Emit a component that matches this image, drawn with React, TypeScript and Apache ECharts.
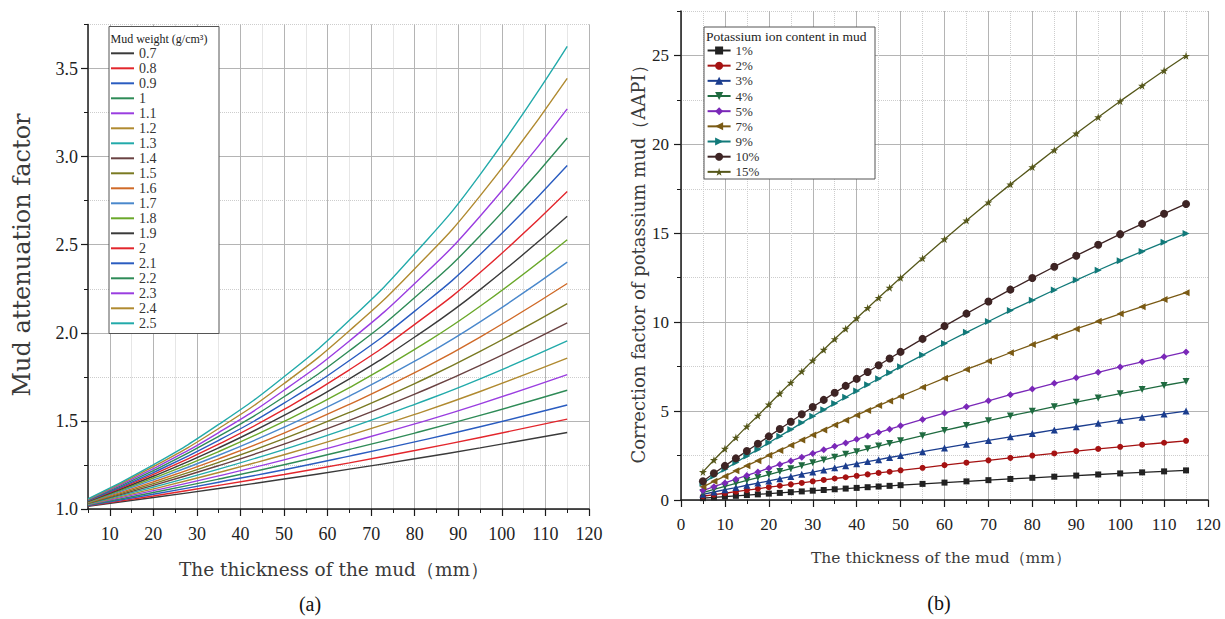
import React, { useEffect, useRef } from "react";
import * as echarts from "echarts";

// ---------- (a) Mud attenuation factor ----------
const xLeft = [5, 20, 35, 50, 65, 80, 95, 115];
const weightNames = ["0.7", "0.8", "0.9", "1", "1.1", "1.2", "1.3", "1.4", "1.5", "1.6", "1.7", "1.8", "1.9", "2", "2.1", "2.2", "2.3", "2.4", "2.5"];
const weightColors = ["#3a3a3a", "#e3262c", "#2a5cc0", "#2e8b57", "#9a3de0", "#b08a30", "#22aaaa", "#6a4242", "#7a7a22", "#d06a28", "#4a88cc", "#6aa82a", "#3a3a3a", "#e3262c", "#2a5cc0", "#2e8b57", "#9a3de0", "#b08a30", "#22aaaa"];
const mw07 = [1.016, 1.065, 1.116, 1.170, 1.226, 1.285, 1.347, 1.434];
const mw08 = [1.018, 1.074, 1.134, 1.196, 1.262, 1.332, 1.406, 1.510];
const mw09 = [1.020, 1.084, 1.152, 1.223, 1.300, 1.381, 1.467, 1.590];
const mw10 = [1.023, 1.094, 1.170, 1.251, 1.338, 1.431, 1.531, 1.674];
const mw11 = [1.025, 1.104, 1.188, 1.279, 1.378, 1.483, 1.597, 1.763];
const mw12 = [1.027, 1.114, 1.207, 1.308, 1.418, 1.537, 1.667, 1.856];
const mw13 = [1.030, 1.124, 1.226, 1.338, 1.460, 1.594, 1.739, 1.954];
const mw14 = [1.032, 1.134, 1.246, 1.368, 1.503, 1.652, 1.815, 2.057];
const mw15 = [1.034, 1.144, 1.265, 1.399, 1.548, 1.712, 1.894, 2.166];
const mw16 = [1.037, 1.154, 1.285, 1.431, 1.594, 1.774, 1.976, 2.280];
const mw17 = [1.039, 1.165, 1.305, 1.464, 1.641, 1.839, 2.062, 2.401];
const mw18 = [1.041, 1.175, 1.326, 1.497, 1.689, 1.906, 2.151, 2.528];
const mw19 = [1.044, 1.186, 1.347, 1.531, 1.739, 1.976, 2.245, 2.662];
const mw20 = [1.046, 1.196, 1.368, 1.565, 1.790, 2.048, 2.342, 2.802];
const mw21 = [1.048, 1.207, 1.390, 1.601, 1.843, 2.123, 2.444, 2.950];
const mw22 = [1.051, 1.218, 1.412, 1.637, 1.898, 2.200, 2.551, 3.106];
const mw23 = [1.053, 1.229, 1.434, 1.674, 1.954, 2.280, 2.662, 3.271];
const mw24 = [1.055, 1.240, 1.457, 1.712, 2.012, 2.364, 2.777, 3.444];
const mw25 = [1.058, 1.251, 1.480, 1.751, 2.071, 2.450, 2.898, 3.626];
const weightValues = [mw07, mw08, mw09, mw10, mw11, mw12, mw13, mw14, mw15, mw16, mw17, mw18, mw19, mw20, mw21, mw22, mw23, mw24, mw25];
const leftXTicks = [10, 120]; // first / last labelled tick
const leftYTicks = [1.0, 3.5];

// ---------- (b) Correction factor of potassium mud ----------
const xRight = [5, 7.5, 10, 12.5, 15, 17.5, 20, 22.5, 25, 27.5, 30, 32.5, 35, 37.5, 40, 42.5, 45, 47.5, 50, 55, 60, 65, 70, 75, 80, 85, 90, 95, 100, 105, 110, 115];
const kNames = ["1%", "2%", "3%", "4%", "5%", "7%", "9%", "10%", "15%"];
const kColors = ["#222222", "#a51212", "#1b3d8e", "#1f6b40", "#7a28b8", "#7a5a14", "#127a7a", "#3e2424", "#55571a"];
const STAR = "path://M50,0 L61,35 L98,35 L68,57 L79,91 L50,70 L21,91 L32,57 L2,35 L39,35 Z";
const kSymbols = ["rect", "circle", "triangle", "triangle", "diamond", "triangle", "triangle", "circle", STAR];
const kRotate = [0, 0, 0, 180, 0, 90, -90, 0, 0];
const kSizes = [6, 6, 7, 7, 7, 7, 7, 8, 8];
const k01 = [0.105, 0.150, 0.192, 0.234, 0.276, 0.316, 0.358, 0.399, 0.440, 0.482, 0.523, 0.563, 0.603, 0.642, 0.681, 0.720, 0.758, 0.796, 0.833, 0.906, 0.978, 1.048, 1.116, 1.183, 1.248, 1.312, 1.374, 1.435, 1.495, 1.553, 1.610, 1.665];
const k02 = [0.21, 0.30, 0.38, 0.47, 0.55, 0.63, 0.72, 0.80, 0.88, 0.96, 1.05, 1.13, 1.21, 1.28, 1.36, 1.44, 1.52, 1.59, 1.67, 1.81, 1.96, 2.10, 2.23, 2.37, 2.50, 2.62, 2.75, 2.87, 2.99, 3.11, 3.22, 3.33];
const k03 = [0.32, 0.45, 0.58, 0.70, 0.83, 0.95, 1.07, 1.20, 1.32, 1.45, 1.57, 1.69, 1.81, 1.93, 2.04, 2.16, 2.27, 2.39, 2.50, 2.72, 2.93, 3.14, 3.35, 3.55, 3.74, 3.94, 4.12, 4.31, 4.49, 4.66, 4.83, 5.00];
const k04 = [0.42, 0.60, 0.77, 0.94, 1.10, 1.26, 1.43, 1.60, 1.76, 1.93, 2.09, 2.25, 2.41, 2.57, 2.72, 2.88, 3.03, 3.18, 3.33, 3.62, 3.91, 4.19, 4.46, 4.73, 4.99, 5.25, 5.50, 5.74, 5.98, 6.21, 6.44, 6.66];
const k05 = [0.53, 0.75, 0.96, 1.17, 1.38, 1.58, 1.79, 2.00, 2.20, 2.41, 2.62, 2.82, 3.02, 3.21, 3.41, 3.60, 3.79, 3.98, 4.17, 4.53, 4.89, 5.24, 5.58, 5.92, 6.24, 6.56, 6.87, 7.18, 7.48, 7.77, 8.05, 8.33];
const k07 = [0.74, 1.05, 1.34, 1.64, 1.93, 2.21, 2.51, 2.79, 3.08, 3.37, 3.66, 3.94, 4.22, 4.49, 4.77, 5.04, 5.31, 5.57, 5.83, 6.34, 6.85, 7.34, 7.81, 8.28, 8.74, 9.18, 9.62, 10.05, 10.47, 10.87, 11.27, 11.66];
const k09 = [0.95, 1.35, 1.73, 2.11, 2.48, 2.84, 3.22, 3.59, 3.96, 4.34, 4.71, 5.07, 5.43, 5.78, 6.13, 6.48, 6.82, 7.16, 7.50, 8.15, 8.80, 9.43, 10.04, 10.65, 11.23, 11.81, 12.37, 12.92, 13.46, 13.98, 14.49, 14.99];
const k10 = [1.05, 1.50, 1.92, 2.34, 2.76, 3.16, 3.58, 3.99, 4.40, 4.82, 5.23, 5.63, 6.03, 6.42, 6.81, 7.20, 7.58, 7.96, 8.33, 9.06, 9.78, 10.48, 11.16, 11.83, 12.48, 13.12, 13.74, 14.35, 14.95, 15.53, 16.10, 16.65];
const k15 = [1.58, 2.25, 2.88, 3.51, 4.14, 4.74, 5.37, 5.99, 6.60, 7.23, 7.85, 8.45, 9.05, 9.63, 10.22, 10.80, 11.37, 11.94, 12.50, 13.59, 14.67, 15.72, 16.74, 17.75, 18.72, 19.68, 20.61, 21.53, 22.43, 23.30, 24.15, 24.98];
const kValues = [k01, k02, k03, k04, k05, k07, k09, k10, k15];

const SERIF = "Liberation Serif";
const TITLE = "DejaVu Serif";
const AXIS = "#1a1a1a";
const MAJOR = "#b4b4b4";
const MINOR = "#cdcdcd";

export default function App() {
  const ref = useRef<HTMLDivElement>(null);
  useEffect(() => {
    document.body.style.margin = "0";
    const chart = echarts.init(ref.current as HTMLDivElement, null, { renderer: "svg" });

    const axisLine = { show: true, onZero: false, lineStyle: { color: AXIS, width: 1.5 } };
    const minorSplit = { show: true, lineStyle: { color: MINOR, type: "dotted", width: 1 } };
    const majorSplit = { show: true, lineStyle: { color: MAJOR, type: "solid", width: 1 } };
    const labelStyle = { fontFamily: SERIF, color: "#222" };

    const leftSeries = weightNames.map((name, i) => ({
      name,
      type: "line",
      xAxisIndex: 0,
      yAxisIndex: 0,
      smooth: true,
      symbol: "circle",
      showSymbol: false,
      data: xLeft.map((x, j) => [x, weightValues[i][j]]),
      lineStyle: { color: weightColors[i], width: 1.4 },
      itemStyle: { color: weightColors[i] },
      z: 2,
    }));

    const rightSeries = kNames.map((name, i) => ({
      name,
      type: "line",
      xAxisIndex: 3,
      yAxisIndex: 3,
      symbol: kSymbols[i],
      symbolRotate: kRotate[i],
      symbolSize: kSizes[i],
      data: xRight.map((x, j) => [x, kValues[i][j]]),
      lineStyle: { color: kColors[i], width: 1.3 },
      itemStyle: { color: kColors[i] },
      z: 2,
    }));

    const option = {
      animation: false,
      backgroundColor: "#fff",
      grid: [
        { left: 88, top: 24.5, width: 501, height: 484.5 },
        { left: 109.8, top: 24.5, width: 479.2, height: 484.5 },
        { left: 88, top: 68.55, width: 501, height: 440.45 },
        { left: 681, top: 11, width: 527, height: 489 },
        { left: 681, top: 55.5, width: 527, height: 444.5 },
      ],
      xAxis: [
        {
          gridIndex: 0, type: "value", min: 5, max: 120, interval: 5,
          axisLine, axisTick: { show: true, length: 4, lineStyle: { color: AXIS } },
          axisLabel: { show: false }, splitLine: minorSplit,
        },
        {
          gridIndex: 1, type: "value", min: leftXTicks[0], max: leftXTicks[1], interval: 10,
          axisLine: { show: false }, axisTick: { show: true, length: 7, lineStyle: { color: AXIS, width: 1.2 } },
          axisLabel: { show: true, fontSize: 18, margin: 16, ...labelStyle }, splitLine: majorSplit,
        },
        { gridIndex: 2, type: "value", min: 5, max: 120, show: false },
        {
          gridIndex: 3, type: "value", min: 0, max: 120, interval: 10,
          axisLine, axisTick: { show: true, length: 7, lineStyle: { color: AXIS, width: 1.2 } },
          minorTick: { show: true, splitNumber: 2, length: 4, lineStyle: { color: AXIS } },
          axisLabel: { show: true, fontSize: 17, margin: 16, ...labelStyle },
          splitLine: majorSplit, minorSplitLine: minorSplit,
        },
        { gridIndex: 4, type: "value", min: 0, max: 120, show: false },
      ],
      yAxis: [
        {
          gridIndex: 0, type: "value", min: 1, max: 3.75, interval: 0.25,
          axisLine, axisTick: { show: true, length: 4, lineStyle: { color: AXIS } },
          axisLabel: { show: false }, splitLine: minorSplit,
        },
        { gridIndex: 1, type: "value", min: 1, max: 3.75, show: false },
        {
          gridIndex: 2, type: "value", min: leftYTicks[0], max: leftYTicks[1], interval: 0.5,
          axisLine: { show: false }, axisTick: { show: true, length: 7, lineStyle: { color: AXIS, width: 1.2 } },
          axisLabel: { show: true, fontSize: 18, margin: 10, formatter: (v: number) => v.toFixed(1), ...labelStyle },
          splitLine: majorSplit,
        },
        {
          gridIndex: 3, type: "value", min: 0, max: 27.5, interval: 2.5,
          axisLine, axisTick: { show: true, length: 4, lineStyle: { color: AXIS } },
          axisLabel: { show: false }, splitLine: minorSplit,
        },
        {
          gridIndex: 4, type: "value", min: 0, max: 25, interval: 5,
          axisLine: { show: false }, axisTick: { show: true, length: 7, lineStyle: { color: AXIS, width: 1.2 } },
          axisLabel: { show: true, fontSize: 17, margin: 12, ...labelStyle },
          splitLine: majorSplit,
        },
      ],
      legend: [
        {
          data: weightNames,
          orient: "vertical",
          left: 110,
          top: 46.3,
          padding: 0,
          itemWidth: 23,
          itemHeight: 12,
          itemGap: 1.0,
          selectedMode: false,
          itemStyle: { opacity: 0 },
          textStyle: { fontFamily: SERIF, fontSize: 14, color: "#333" },
          z: 6,
        },
        {
          data: kNames,
          orient: "vertical",
          left: 706.6,
          top: 44,
          padding: 0,
          itemWidth: 23,
          itemHeight: 10,
          itemGap: 2.17,
          selectedMode: false,
          textStyle: { fontFamily: SERIF, fontSize: 13, color: "#333" },
          z: 6,
        },
      ],
      graphic: [
        { type: "rect", z: 4, shape: { x: 109, y: 26.5, width: 110, height: 307 }, style: { fill: "#fff", stroke: "#555", lineWidth: 1 } },
        { type: "text", z: 7, x: 110.5, y: 38.5, style: { text: "Mud weight (g/cm³)", fontFamily: SERIF, fontSize: 12, fill: "#222", textAlign: "left", textVerticalAlign: "middle" } },
        { type: "rect", z: 4, shape: { x: 704, y: 27, width: 171, height: 152 }, style: { fill: "#fff", stroke: "#555", lineWidth: 1 } },
        { type: "text", z: 7, x: 706, y: 36, style: { text: "Potassium ion content in mud", fontFamily: SERIF, fontSize: 13.5, fill: "#222", textAlign: "left", textVerticalAlign: "middle" } },
        { type: "text", z: 7, x: 22, y: 255, rotation: Math.PI / 2, style: { text: "Mud attenuation factor", fontFamily: TITLE, fontSize: 24, fill: "#3a3a3a", textAlign: "center", textVerticalAlign: "middle" } },
        { type: "text", z: 7, x: 334, y: 569, style: { text: "The thickness of the mud（mm）", fontFamily: TITLE, fontSize: 18.5, fill: "#3a3a3a", textAlign: "center", textVerticalAlign: "middle" } },
        { type: "text", z: 7, x: 638, y: 260, rotation: Math.PI / 2, style: { text: "Correction factor of potassium mud（AAPI）", fontFamily: TITLE, fontSize: 18, fill: "#3a3a3a", textAlign: "center", textVerticalAlign: "middle" } },
        { type: "text", z: 7, x: 941, y: 557.5, style: { text: "The thickness of the mud（mm）", fontFamily: TITLE, fontSize: 15.5, fill: "#3a3a3a", textAlign: "center", textVerticalAlign: "middle" } },
        { type: "text", z: 7, x: 310, y: 604, style: { text: "(a)", fontFamily: SERIF, fontSize: 20, fill: "#111", textAlign: "center", textVerticalAlign: "middle" } },
        { type: "text", z: 7, x: 939, y: 603, style: { text: "(b)", fontFamily: SERIF, fontSize: 20, fill: "#111", textAlign: "center", textVerticalAlign: "middle" } },
      ],
      series: [...leftSeries, ...rightSeries],
    };

    chart.setOption(option as any);
    return () => chart.dispose();
  }, []);

  return <div ref={ref} style={{ width: 1225, height: 619, background: "#fff" }} />;
}
